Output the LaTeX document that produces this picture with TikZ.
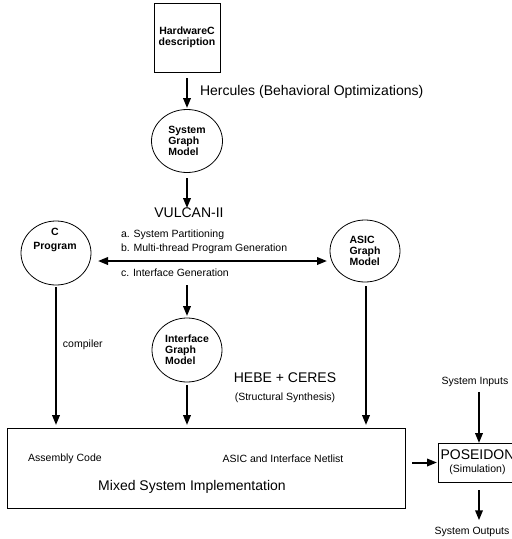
\documentclass[tikz,border=0pt]{standalone}
\usepackage{fontspec}
\setmainfont{Liberation Sans}
\usetikzlibrary{arrows.meta,shapes.geometric}
\begin{document}
\begin{tikzpicture}[x=1pt,y=-1pt,
  every node/.style={inner sep=0pt, outer sep=0pt},
  big/.style={font=\fontsize{14}{16}\selectfont},
  small/.style={font=\fontsize{10.5}{13}\selectfont},
  bnode/.style={font=\bfseries\fontsize{10.5}{11}\selectfont},
  ell/.style={draw, ellipse, line width=0.8pt, minimum width=70pt, minimum height=63pt},
  box/.style={draw, rectangle, line width=0.8pt},
  arr/.style={line width=2pt, -{Triangle[length=10pt,width=7.5pt]}},
  darr/.style={line width=2pt, {Triangle[length=10pt,width=7.5pt]}-{Triangle[length=10pt,width=7.5pt]}},
]
\useasboundingbox (0,0) rectangle (512,539);

% nodes
\node[box, bnode, align=center, minimum width=66pt, minimum height=69pt] (hw) at (187,37.5) {HardwareC\\description};
\node[big, anchor=west] (herc) at (200,92) {Hercules (Behavioral Optimizations)};
\node[ell, bnode, align=left, minimum width=71pt] (sgm) at (187,141) {System\\Graph\\Model};
\node[big] (vulcan) at (189,213) {VULCAN-II};

\node[ell, minimum height=64pt] (cprog) at (56,253) {};
\node[bnode, align=center, font=\bfseries\fontsize{10.5}{14.5}\selectfont] (cprogt) at (55,240) {C\\Program};
\node[ell, bnode, align=left, minimum height=62pt] (asic) at (365,251) {ASIC\\Graph\\Model};

\node[small, anchor=west] (ta) at (121,235) {a. System Partitioning};
\node[small, anchor=west] (tb) at (121,249) {b. Multi-thread Program Generation};
\node[small, anchor=west] (tc) at (121,273) {c. Interface Generation};

\node[ell, bnode, align=left, minimum height=64pt] (igm) at (187,350) {Interface\\Graph\\Model};
\node[small, anchor=west] (comp) at (63,345) {compiler};
\node[big] (hebe) at (285,378) {HEBE + CERES};
\node[small] (struct) at (285,398) {(Structural Synthesis)};

\node[box, minimum width=398pt, minimum height=80pt] (mix) at (206,468) {};
\node[small] (asm) at (65,459) {Assembly Code};
\node[small] (net) at (283,459) {ASIC and Interface Netlist};
\node[big] (mixt) at (192,487) {Mixed System Implementation};

\node[box, minimum width=79pt, minimum height=39pt, align=center] (pos) at (477.5,462.5)
  {{\fontsize{14}{15}\selectfont POSEIDON}\\[1pt]{\fontsize{10.5}{12}\selectfont (Simulation)}};
\node[small] (inp) at (475,382) {System Inputs};
\node[small] (outp) at (472,532) {System Outputs};

% coordinates
\coordinate (hline) at (0,261);
\coordinate (split) at (187,285);

% connectors
\draw[arr, shorten <=6pt, shorten >=1.5pt] (hw.south) -- (sgm.north);
\draw[arr, shorten <=5.5pt] (sgm.south) -- (sgm.south |- vulcan.north);
\draw[darr, shorten <=7pt, shorten >=3pt] (cprog.east |- hline) -- (asic.west |- hline);
\draw[arr, shorten >=2pt] (split) -- (igm.north);
\draw[arr, shorten <=2pt, shorten >=3pt] (cprog.south) -- (cprog.south |- mix.north);
\draw[arr, shorten <=4pt, shorten >=3pt] ([xshift=1pt]asic.south) -- ([xshift=1pt]asic.south |- mix.north);
\draw[arr, shorten <=3pt, shorten >=3pt] (igm.south) -- (igm.south |- mix.north);
\draw[arr, shorten <=7pt, shorten >=1pt] (mix.east |- pos.west) -- (pos.west);
\draw[arr, shorten <=5pt] ([xshift=1.5pt]pos.north |- inp.south) -- ([xshift=1.5pt]pos.north);
\draw[arr, shorten <=8pt, shorten >=7pt] ([xshift=1.5pt]pos.south) -- ([xshift=1.5pt]pos.south |- outp.north);
\end{tikzpicture}
\end{document}
